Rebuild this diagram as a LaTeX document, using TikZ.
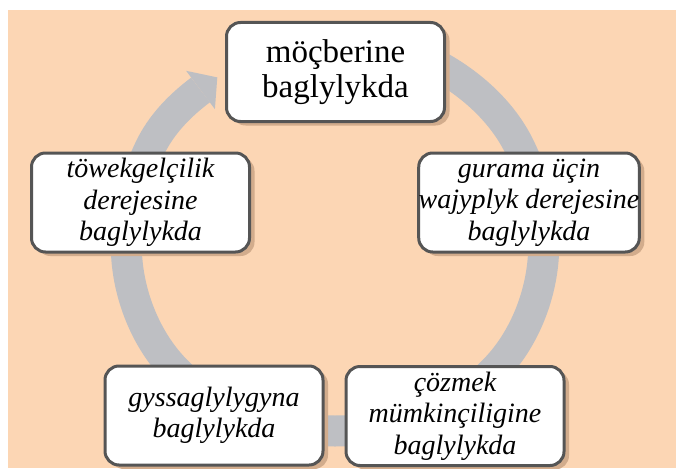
\documentclass[tikz,border=0pt]{standalone}
\usepackage{fontspec}
\setmainfont{Liberation Serif}
\usetikzlibrary{shadows}
\definecolor{bgpeach}{RGB}{252,214,180}
\definecolor{ringgray}{RGB}{190,191,195}
\definecolor{boxborder}{RGB}{85,85,85}
\definecolor{shadowcol}{RGB}{210,172,140}
\tikzset{
  cyclebox/.style={draw=boxborder, line width=3pt, fill=white, rounded corners=14pt,
    minimum width=218pt, minimum height=99pt, inner sep=0pt, align=center,
    drop shadow={shadow xshift=5pt, shadow yshift=-4pt, fill=shadowcol, opacity=1}},
  itbox/.style={cyclebox, font=\fontsize{28}{31.5}\selectfont\itshape},
  upbox/.style={cyclebox, font=\fontsize{33}{35}\selectfont},
  ringband/.style={draw=ringgray, line width=31pt}
}
\begin{document}
\begin{tikzpicture}[x=1pt,y=-1pt]
\useasboundingbox (0,0) rectangle (676,468);
\fill[white] (0,0) rectangle (676,468);
\fill[bgpeach] (8,10) rectangle (676,468);
% ring
\draw[ringband] (335,38) .. controls (407,38) and (489,83) .. (520,148)
  .. controls (535.5,180.4) and (545.3,218) .. (543.5,254)
  .. controls (541.5,293) and (526.4,333.4) .. (501,363)
  .. controls (462,408.6) and (395,431) .. (335,431)
  .. controls (275,431) and (208,408.6) .. (169,363)
  .. controls (143.6,333.4) and (128.5,293) .. (126.5,254)
  .. controls (124.7,218) and (134.5,180.4) .. (150,148)
  .. controls (161.2,124.6) and (179.7,105.6) .. (200.5,90);
\fill[ringgray] (186.1,70.8) -- (217.3,77.4) -- (214.9,109.2) -- cycle;
% boxes
\node[upbox] (top) at (335.5,72) {möçberine\\baglylykda};
\node[itbox] (right) at (529,202.5) {gurama üçin\\wajyplyk derejesine\\baglylykda};
\node[itbox] (br) at (455,416) {çözmek\\mümkinçiligine\\baglylykda};
\node[itbox] (bl) at (214,415.5) {gyssaglylygyna\\baglylykda};
\node[itbox] (left) at (140.5,202.5) {töwekgelçilik\\derejesine\\baglylykda};
\end{tikzpicture}
\end{document}
